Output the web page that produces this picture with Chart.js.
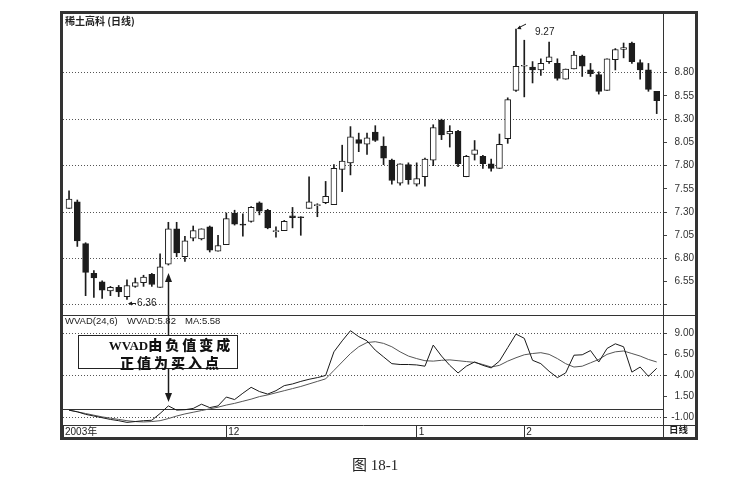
<!DOCTYPE html>
<html>
<head>
<meta charset="utf-8">
<script src="https://cdn.jsdelivr.net/npm/chart.js@4.4.0/dist/chart.umd.min.js"></script>
<style>
  body { margin: 0; background: #fff; }
  #wrap { position: relative; width: 748px; height: 481px; overflow: hidden;
          font-family: "Liberation Sans", Arial, "Noto Sans CJK SC", sans-serif; color: #222; }
  #frame { position: absolute; left: 60px; top: 11px; width: 632px; height: 423px; border: 3px solid #333; }
  .hl { position: absolute; height: 1px; background: #333; }
  .vl { position: absolute; width: 1px; background: #333; }
  .txt { position: absolute; white-space: nowrap; line-height: 1; }
  #chart { position: absolute; left: 0; top: 0; }
  #box { position: absolute; left: 78px; top: 335px; width: 132px; height: 32px; padding-left: 26px;
         border: 1px solid #222; background: #fff; text-align: center;
         font-family: "Noto Sans CJK SC", sans-serif; font-weight: 900; font-size: 14px;
         line-height: 17px; letter-spacing: 3px; color: #111; }
  #box .lat { font-family: "Liberation Serif", serif; font-size: 13px; letter-spacing: 0; }
</style>
</head>
<body>
<div id="wrap">
  <div id="frame"></div>
  <canvas id="chart" width="748" height="481"></canvas>
  <div class="hl" style="left:63px; top:315px; width:633px;"></div>
  <div class="hl" style="left:663px; top:425px; width:33px;"></div>
  <div class="vl" style="left:663px; top:425px; height:12px;"></div>

  <div class="txt" style="left:65px; top:16px; font-size:10px; font-weight:bold; font-family:'Noto Sans CJK SC',sans-serif;">稀土高科 (日线)</div>
  <div class="txt" style="left:65px; top:316px; font-size:9.5px;">WVAD(24,6)</div>
  <div class="txt" style="left:127px; top:316px; font-size:9.5px;">WVAD:5.82</div>
  <div class="txt" style="left:185px; top:316px; font-size:9.5px;">MA:5.58</div>
  <div class="txt" style="left:669px; top:425px; font-size:9.5px; font-weight:bold; font-family:'Noto Sans CJK SC',sans-serif;">日线</div>
  <div id="box"><span class="lat">WVAD</span>由负值变成<br>正值为买入点</div>
  <div class="txt" style="left:352px; top:458px; font-size:15px; font-family:'Liberation Serif','Noto Sans CJK SC',serif;">图 18-1</div>
</div>

<script>
// 日K线 2003-11 ~ 2004-02
const opens  = [7.34, 7.41, 6.96, 6.64, 6.55, 6.45, 6.49, 6.39, 6.50, 6.54,
                6.63, 6.49, 6.74, 7.12, 6.82, 7.02, 7.01, 7.14, 6.88, 6.95,
                7.29, 7.17, 7.20, 7.40, 7.32, 7.09, 7.10, 7.26, 7.25, 7.34,
                7.37, 7.40, 7.38, 7.76, 7.83, 8.08, 8.03, 8.16, 8.01, 7.86,
                7.61, 7.81, 7.60, 7.68, 7.86, 8.29, 8.14, 8.17, 7.68, 7.92,
                7.90, 7.82, 7.77, 8.09, 8.61, 8.87, 8.86, 8.83, 8.92, 8.90,
                8.73, 8.84, 8.98, 8.83, 8.78, 8.61, 8.94, 9.05, 9.12, 8.91,
                8.83, 8.60];
const highs  = [7.53, 7.43, 6.97, 6.67, 6.56, 6.50, 6.51, 6.57, 6.59, 6.62,
                6.64, 6.85, 7.19, 7.19, 7.04, 7.15, 7.12, 7.15, 7.05, 7.29,
                7.32, 7.28, 7.36, 7.41, 7.33, 7.14, 7.21, 7.35, 7.25, 7.68,
                7.39, 7.63, 7.81, 8.02, 8.22, 8.15, 8.15, 8.23, 8.11, 7.87,
                7.82, 7.83, 7.83, 7.88, 8.24, 8.30, 8.23, 8.18, 7.91, 8.07,
                7.91, 7.87, 8.14, 8.53, 9.27, 9.15, 8.92, 8.95, 9.13, 8.95,
                8.84, 9.03, 8.99, 8.90, 8.81, 8.95, 9.06, 9.12, 9.13, 8.94,
                8.90, 8.60];
const lows   = [7.34, 6.93, 6.40, 6.38, 6.37, 6.40, 6.39, 6.36, 6.49, 6.50,
                6.50, 6.49, 6.73, 6.82, 6.77, 6.99, 7.00, 6.87, 6.88, 6.95,
                7.16, 7.04, 7.19, 7.27, 7.12, 7.03, 7.10, 7.13, 7.05, 7.34,
                7.25, 7.39, 7.38, 7.52, 7.70, 7.95, 7.92, 8.06, 7.81, 7.60,
                7.59, 7.60, 7.58, 7.58, 7.80, 8.08, 8.00, 7.79, 7.68, 7.86,
                7.77, 7.74, 7.77, 8.04, 8.60, 8.54, 8.69, 8.77, 8.90, 8.72,
                8.73, 8.84, 8.76, 8.76, 8.57, 8.61, 8.83, 8.96, 8.90, 8.73,
                8.60, 8.36];
const closes = [7.44, 6.99, 6.65, 6.59, 6.46, 6.49, 6.44, 6.51, 6.54, 6.60,
                6.52, 6.71, 7.12, 6.86, 6.99, 7.10, 7.12, 6.89, 6.94, 7.23,
                7.17, 7.16, 7.35, 7.31, 7.13, 7.10, 7.20, 7.24, 7.24, 7.41,
                7.38, 7.47, 7.77, 7.85, 8.11, 8.04, 8.10, 8.07, 7.88, 7.64,
                7.82, 7.65, 7.66, 7.87, 8.21, 8.13, 8.17, 7.82, 7.90, 7.97,
                7.82, 7.77, 8.03, 8.51, 8.87, 8.88, 8.83, 8.90, 8.97, 8.74,
                8.84, 8.99, 8.87, 8.79, 8.60, 8.95, 9.05, 9.07, 8.92, 8.83,
                8.62, 8.50];

// WVAD(24,6) 指标
const wvad = [-0.10, -0.30, -0.60, -0.80, -1.00, -1.20, -1.35, -1.55, -1.45, -1.35,
              -1.30, -0.50, 0.40, -0.10, -0.05, 0.10, 0.60, 0.20, 0.40, 1.45,
              1.15, 1.90, 2.60, 2.10, 1.80, 2.20, 2.80, 3.00, 3.30, 3.55,
              3.75, 4.00, 6.80, 8.10, 9.30, 8.60, 8.10, 7.00, 6.20, 5.40,
              5.30, 5.30, 5.25, 5.10, 7.60, 6.30, 5.20, 4.30, 5.10, 5.60,
              5.20, 4.90, 5.70, 7.30, 8.90, 8.40, 5.80, 5.40, 4.50, 3.75,
              4.30, 6.40, 6.45, 6.95, 5.60, 7.20, 7.75, 7.40, 4.40, 5.00,
              3.90, 4.85];
const wvadMA = [-0.10, -0.30, -0.50, -0.70, -0.90, -1.05, -1.20, -1.35, -1.45, -1.50,
                -1.45, -1.35, -1.10, -0.80, -0.55, -0.35, -0.15, 0.05, 0.25, 0.50,
                0.70, 0.95, 1.20, 1.50, 1.70, 1.95, 2.20, 2.45, 2.70, 3.00,
                3.30, 3.60, 4.60, 5.60, 6.60, 7.40, 7.90, 8.00, 7.80, 7.40,
                6.80, 6.30, 6.00, 5.75, 5.70, 5.80, 5.85, 5.75, 5.65, 5.55,
                5.30, 5.00, 5.20, 5.70, 6.10, 6.45, 6.60, 6.70, 6.50, 6.00,
                5.40, 5.00, 5.10, 5.50, 5.90, 6.50, 6.80, 6.90, 6.60, 6.30,
                5.90, 5.60];

// 坐标刻度
const priceTicks = [6.30, 6.55, 6.80, 7.05, 7.30, 7.55, 7.80, 8.05, 8.30, 8.55, 8.80];
const wvadTicks  = [-1.00, 0, 1.50, 4.00, 6.50, 9.00];
const monthStart = [19, 42, 55];          // 12月、1月、2月 第一个交易日
const dateLabels = ['2003年', '12', '1', '2'];

const X_MIN = -0.73, X_MAX = 71.76;
const BOX = { top: 335, bottom: 368 };    // 文字框上下边 (与 #box 一致)

const candleIdx = opens.map((_, i) => i);
const bodies = candleIdx.map(i => ({ x: i, y: [opens[i], closes[i]] }));
const wicks  = candleIdx.map(i => ({ x: i, y: [lows[i], highs[i]] }));

const INK = '#1c1c1c';
const CLEAR = 'rgba(0,0,0,0)';

function arrowHead(ctx, tx, ty, dx, dy, len, half) {
  // 三角箭头, 尖端在 (tx,ty), 指向 (dx,dy) 方向
  const n = Math.hypot(dx, dy); dx /= n; dy /= n;
  const bx = tx - dx * len, by = ty - dy * len;
  ctx.beginPath();
  ctx.moveTo(tx, ty);
  ctx.lineTo(bx - dy * half, by + dx * half);
  ctx.lineTo(bx + dy * half, by - dx * half);
  ctx.closePath();
  ctx.fill();
}

const annotate = {
  id: 'annotate',
  afterDatasetsDraw(chart) {
    const { ctx, scales: { x, y, yw } } = chart;
    ctx.save();
    ctx.strokeStyle = INK; ctx.fillStyle = INK; ctx.lineWidth = 1;
    ctx.font = '10px "Liberation Sans", Arial, sans-serif';
    ctx.textBaseline = 'middle';

    // 最低价标注
    const lo = lows.indexOf(Math.min(...lows));
    let px = x.getPixelForValue(lo), py = Math.round(y.getPixelForValue(lows[lo]) + 4) + 0.5;
    ctx.beginPath(); ctx.moveTo(px + 2, py); ctx.lineTo(px + 9, py); ctx.stroke();
    arrowHead(ctx, px + 1, py, -1, 0, 4, 2);
    ctx.fillText(lows[lo].toFixed(2), px + 10, py);

    // 最高价标注
    const hi = highs.indexOf(Math.max(...highs));
    px = x.getPixelForValue(hi); py = y.getPixelForValue(highs[hi]);
    ctx.beginPath(); ctx.moveTo(px + 10, py - 5); ctx.lineTo(px + 2, py - 1); ctx.stroke();
    arrowHead(ctx, px + 1, py, -9, 4, 4, 2);
    ctx.fillText(highs[hi].toFixed(2), px + 19, py + 3);

    // WVAD 由负转正的那一天
    const sig = wvad.findIndex(v => v > 0);
    const sx = Math.round(x.getPixelForValue(sig)) + 0.5;
    const upTip = y.getPixelForValue(lows[sig]) + 8;
    const downTip = yw.getPixelForValue(wvad[sig]) - 4;
    ctx.lineWidth = 1.5;
    ctx.beginPath(); ctx.moveTo(sx, BOX.top); ctx.lineTo(sx, upTip + 6); ctx.stroke();
    arrowHead(ctx, sx, upTip, 0, -1, 9, 3.5);
    ctx.beginPath(); ctx.moveTo(sx, BOX.bottom); ctx.lineTo(sx, downTip - 6); ctx.stroke();
    arrowHead(ctx, sx, downTip, 0, 1, 9, 3.5);
    ctx.restore();
  }
};

new Chart(document.getElementById('chart'), {
  type: 'bar',
  data: {
    datasets: [
      { label: 'wick', data: wicks, yAxisID: 'y', grouped: false, barThickness: 1,
        backgroundColor: INK, order: 3 },
      { label: 'body', data: bodies, yAxisID: 'y', grouped: false, barThickness: 6,
        backgroundColor: c => closes[c.dataIndex] >= opens[c.dataIndex] ? '#ffffff' : INK,
        borderColor: INK, borderWidth: 1, borderSkipped: false, order: 2 },
      { type: 'line', label: 'MA', data: wvadMA.map((v, i) => ({ x: i, y: v })), yAxisID: 'yw',
        borderColor: '#555', borderWidth: 1, pointRadius: 0, order: 1 },
      { type: 'line', label: 'WVAD', data: wvad.map((v, i) => ({ x: i, y: v })), yAxisID: 'yw',
        borderColor: '#1a1a1a', borderWidth: 1, pointRadius: 0, order: 0 }
    ]
  },
  options: {
    responsive: false,
    animation: false,
    events: [],
    // 右侧价格轴宽 31, 文字右端约在 694
    layout: { padding: { left: 63, top: 13, right: 54, bottom: 43 } },
    plugins: { legend: { display: false }, tooltip: { enabled: false } },
    scales: {
      x: {
        type: 'linear', min: X_MIN, max: X_MAX, offset: false,
        afterBuildTicks: s => { s.ticks = [X_MIN].concat(monthStart).map(v => ({ value: v })); },
        afterFit: s => { s.height = 13; },
        grid: { offset: false, drawOnChartArea: false, drawTicks: true, tickLength: 13, tickColor: '#333' },
        border: { color: '#333' },
        ticks: { align: 'start', labelOffset: 2, padding: -12, autoSkip: false, maxRotation: 0,
                 color: '#222', font: { size: 10, family: '"Liberation Sans", "Noto Sans CJK SC"' },
                 callback: (v, i) => dateLabels[i] }
      },
      y: {
        position: 'right', stack: 'panes', stackWeight: 302,
        min: 6.192, max: 9.443,
        afterBuildTicks: s => { s.ticks = priceTicks.map(v => ({ value: v })); },
        afterFit: s => { s.width = 31; },
        grid: { color: c => c.index % 2 === 0 ? '#555' : CLEAR, tickLength: 4, tickColor: '#444' },
        border: { color: '#333', dash: [1, 2] },
        ticks: { crossAlign: 'far', padding: 3, autoSkip: false, color: '#333', font: { size: 10 },
                 callback: (v, i) => i === 0 ? '' : v.toFixed(2) }
      },
      yw: {
        position: 'right', stack: 'panes', stackWeight: 110,
        min: -1.86, max: 11.16,
        afterBuildTicks: s => { s.ticks = wvadTicks.map(v => ({ value: v })); },
        afterFit: s => { s.width = 31; },
        // -1、4、9 点线, 0 轴实线
        grid: { color: c => c.index === 1 ? '#333' : ([0, 3, 5].includes(c.index) ? '#555' : CLEAR),
                tickLength: 4, tickColor: c => c.index === 1 ? CLEAR : '#444' },
        border: { color: '#333', dash: c => (c.tick && c.tick.value === 0) ? [] : [1, 2] },
        ticks: { crossAlign: 'far', padding: 3, autoSkip: false, color: '#333', font: { size: 10 },
                 callback: (v, i) => i === 1 ? '' : v.toFixed(2) }
      }
    }
  },
  plugins: [annotate]
});
</script>
</body>
</html>
